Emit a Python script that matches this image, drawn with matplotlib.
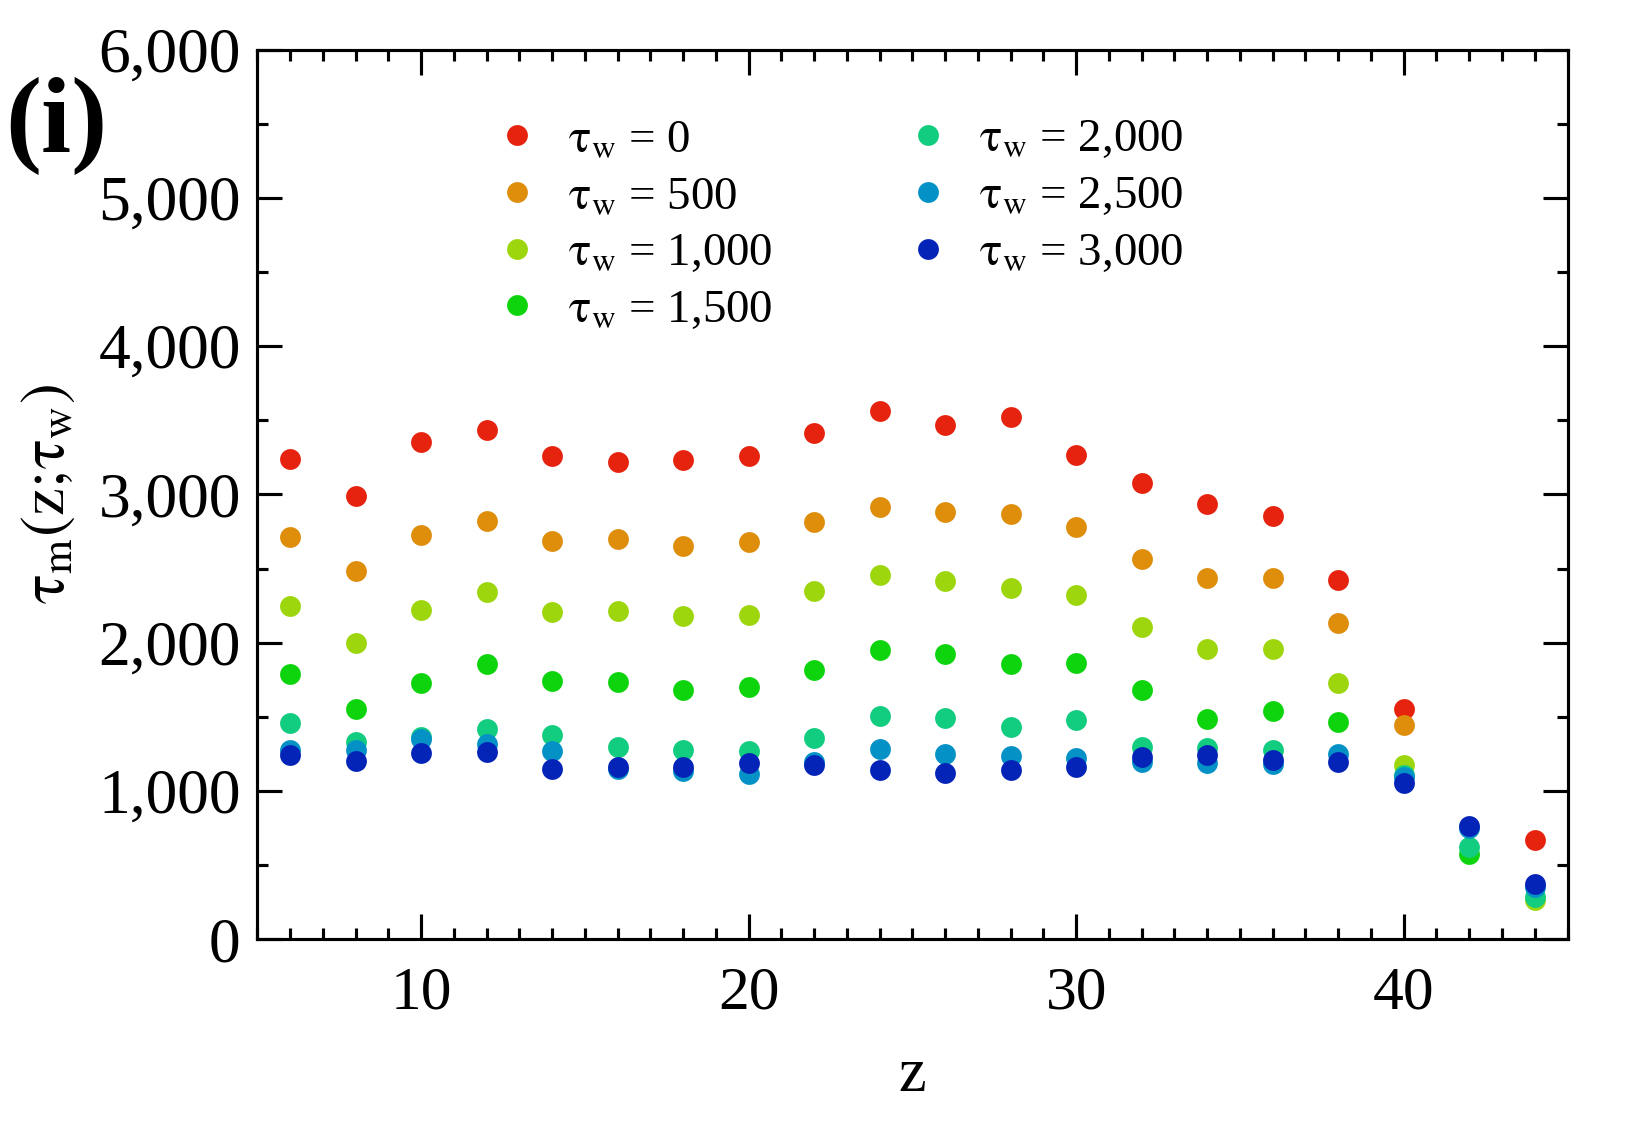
import numpy as np
import matplotlib
matplotlib.use("Agg")
import matplotlib.pyplot as plt
from matplotlib.ticker import MultipleLocator, FuncFormatter

plt.rcParams['font.family'] = ['Liberation Serif', 'DejaVu Serif']
plt.rcParams['mathtext.fontset'] = 'stix'

nan = np.nan
z = [6, 8, 10, 12, 14, 16, 18, 20, 22, 24, 26, 28, 30, 32, 34, 36, 38, 40, 42, 44]

tw_labels = ['0', '500', '1,000', '1,500', '2,000', '2,500', '3,000']
colors = ['#e6230f', '#de8e0b', '#9dd60c', '#0ed40e', '#12cc80', '#0492c6', '#0424b8']

tau_0 = [3238, 2989, 3352, 3437, 3259, 3217, 3231, 3259, 3415, 3565,
         3465, 3522, 3266, 3075, 2933, 2854, 2421, 1555, nan, 669]
tau_500 = [2713, 2485, 2727, 2819, 2684, 2698, 2649, 2677, 2812, 2918,
           2883, 2869, 2783, 2563, 2436, 2436, 2130, 1446, nan, nan]
tau_1000 = [2251, 1995, 2223, 2343, 2208, 2215, 2180, 2187, 2350, 2457,
            2414, 2372, 2322, 2109, 1960, 1960, 1731, 1179, nan, 265]
tau_1500 = [1789, 1554, 1726, 1857, 1740, 1738, 1679, 1702, 1816, 1953,
            1926, 1854, 1866, 1684, 1488, 1540, 1466, nan, 579, nan]
tau_2000 = [1460, 1332, 1365, 1417, 1377, 1300, 1280, 1271, 1361, 1504,
            1493, 1432, 1482, 1298, 1291, 1275, nan, 1107, 624, 287]
tau_2500 = [1276, 1276, 1348, 1320, 1269, 1152, 1137, 1114, 1197, 1283,
            1253, 1235, 1224, 1197, 1192, 1185, 1248, 1096, 748, 355]
tau_3000 = [1242, 1202, 1258, 1265, 1152, 1164, 1164, 1186, 1175, 1141,
            1125, 1140, 1163, 1230, 1241, 1212, 1197, 1051, 763, 370]

series = [tau_0, tau_500, tau_1000, tau_1500, tau_2000, tau_2500, tau_3000]

fig = plt.figure(figsize=(11, 7.5), dpi=150)
ax = fig.add_axes([0.156, 0.165, 0.794, 0.791])

for vals, lab, c in zip(series, tw_labels, colors):
    ax.plot(z, vals, 'o', ms=10, color=c, mec='none',
            label=r'$\mathrm{\tau_w}$ = ' + lab)

ax.set_xlim(5, 45)
ax.set_ylim(0, 6000)
ax.xaxis.set_major_locator(MultipleLocator(10))
ax.xaxis.set_minor_locator(MultipleLocator(1))
ax.yaxis.set_major_locator(MultipleLocator(1000))
ax.yaxis.set_minor_locator(MultipleLocator(500))
ax.yaxis.set_major_formatter(FuncFormatter(lambda v, p: f'{int(v):,}'))

ax.tick_params(which='both', direction='in', top=True, right=True, width=1.5)
ax.tick_params(which='major', length=12)
ax.tick_params(which='minor', length=5.5)
ax.tick_params(axis='x', which='major', labelsize=29.5, pad=13)
ax.tick_params(axis='y', which='major', labelsize=30.5, pad=8)
for s in ax.spines.values():
    s.set_linewidth(1.5)

ax.set_xlabel('z', fontsize=30, labelpad=12)
ax.set_ylabel(r'$\mathrm{\tau_m(z;\!\tau_w)}$', fontsize=30, labelpad=10)

fig.text(0.003, 0.888, '(i)', fontsize=52, fontweight='bold', va='center')

ax.legend(ncol=2, frameon=False, fontsize=22.5, loc='upper left',
          bbox_to_anchor=(0.148, 0.97), handletextpad=0.6,
          columnspacing=2.8, labelspacing=0.3, handlelength=1.0)

fig.savefig('out.png', dpi=150)
